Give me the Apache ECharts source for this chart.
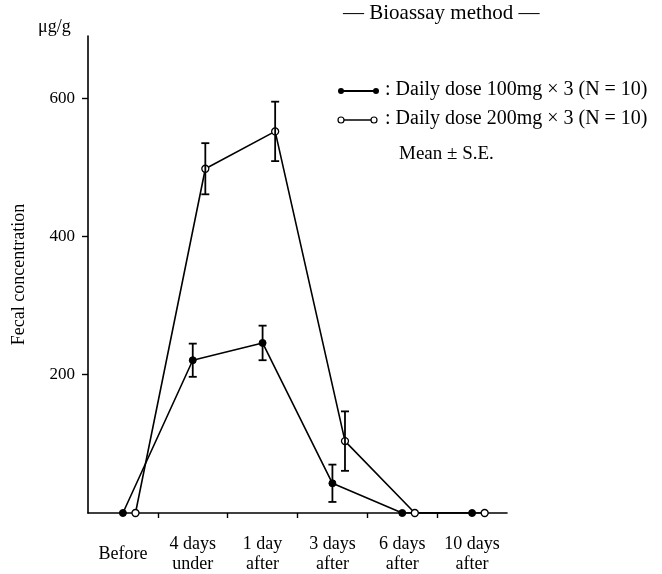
<!DOCTYPE html>
<html>
<head>
<meta charset="utf-8">
<script src="https://cdn.jsdelivr.net/npm/echarts@6/dist/echarts.min.js"></script>
<style>html,body{margin:0;padding:0;background:#fff;}#c{width:662px;height:574px;}</style>
</head>
<body>
<div id="c"></div>
<script>
// ---- data ----
var categories = ['Before', '4 days\nunder', '1 day\nafter', '3 days\nafter', '6 days\nafter', '10 days\nafter'];
var dose100 = [0, 221, 246, 43, 0, 0];
var dose100SE = [null, 24, 25, 27, null, null];
var dose200 = [0, 498, 552, 104, 0, 0];
var dose200SE = [null, 37, 43, 43, null, null];
var yTicks = [200, 400, 600];
var xTickPositions = [0.5, 1.5, 2.5, 3.5, 4.5];

// ---- style ----
var FONT = '"Liberation Serif", "DejaVu Serif", serif';
var offset100 = 0;
var offset200 = 0.18;

function pts(vals, off) {
  return vals.map(function (v, i) { return [i + off, v]; });
}
function errs(vals, se, off) {
  var out = [];
  vals.forEach(function (v, i) {
    if (se[i] != null) out.push([i + off, v - se[i], v + se[i]]);
  });
  return out;
}
function errRender(params, api) {
  var x = api.value(0);
  var lo = api.coord([x, api.value(1)]);
  var hi = api.coord([x, api.value(2)]);
  var w = 4;
  var st = { stroke: '#000', lineWidth: 1.8 };
  return {
    type: 'group',
    children: [
      { type: 'line', shape: { x1: lo[0], y1: lo[1], x2: hi[0], y2: hi[1] }, style: st },
      { type: 'line', shape: { x1: lo[0] - w, y1: lo[1], x2: lo[0] + w, y2: lo[1] }, style: st },
      { type: 'line', shape: { x1: hi[0] - w, y1: hi[1], x2: hi[0] + w, y2: hi[1] }, style: st }
    ]
  };
}

var chart = echarts.init(document.getElementById('c'), null, { renderer: 'canvas' });
var lx = 341, rx = 376;
chart.setOption({
  animation: false,
  backgroundColor: '#fff',
  title: {
    text: '— Bioassay method —',
    left: 343, top: 3, padding: 0,
    textStyle: { fontFamily: FONT, fontSize: 21, fontWeight: 'normal', color: '#000' }
  },
  grid: { left: 88, right: 155, top: 36, bottom: 60 },
  xAxis: [
    {
      type: 'category', data: categories, boundaryGap: true,
      axisLine: { onZero: false, lineStyle: { color: '#000', width: 1.6 } },
      axisTick: { show: false },
      axisLabel: { color: '#000', fontFamily: FONT, fontSize: 18, lineHeight: 20, margin: 41, verticalAlign: 'middle', interval: 0 },
      splitLine: { show: false }
    },
    {
      type: 'value', min: -0.5, max: 5.5, position: 'bottom',
      axisLine: { show: false, onZero: false },
      axisLabel: { show: false },
      axisTick: { show: true, customValues: xTickPositions, length: 5, lineStyle: { color: '#000', width: 1.4 } },
      splitLine: { show: false }
    }
  ],
  yAxis: {
    type: 'value', min: 0, max: 690,
    name: 'Fecal concentration', nameLocation: 'middle', nameRotate: 90, nameGap: 60,
    nameTextStyle: { fontFamily: FONT, fontSize: 18, color: '#000' },
    axisLine: { show: true, onZero: false, lineStyle: { color: '#000', width: 1.6 } },
    axisTick: { show: true, customValues: yTicks, length: 6, lineStyle: { color: '#000', width: 1.4 } },
    axisLabel: { customValues: yTicks, color: '#000', fontFamily: FONT, fontSize: 17, margin: 13 },
    splitLine: { show: false }
  },
  graphic: [
    { type: 'text', left: 38, top: 18, style: { text: 'μg/g', fontFamily: FONT, fontSize: 18, fill: '#000' } },
    // legend row 1
    { type: 'line', shape: { x1: lx, y1: 91, x2: rx, y2: 91 }, style: { stroke: '#000', lineWidth: 2 } },
    { type: 'circle', shape: { cx: lx, cy: 91, r: 3 }, style: { fill: '#000' } },
    { type: 'circle', shape: { cx: rx, cy: 91, r: 3 }, style: { fill: '#000' } },
    { type: 'text', left: 385, top: 80, style: { text: ': Daily dose 100mg × 3 (N = 10)', fontFamily: FONT, fontSize: 20, fill: '#000' } },
    // legend row 2
    { type: 'line', shape: { x1: lx, y1: 120, x2: rx - 2, y2: 120 }, style: { stroke: '#000', lineWidth: 1.6 } },
    { type: 'circle', shape: { cx: lx, cy: 120, r: 3 }, style: { fill: '#fff', stroke: '#000', lineWidth: 1.2 } },
    { type: 'circle', shape: { cx: rx - 2, cy: 120, r: 3 }, style: { fill: '#fff', stroke: '#000', lineWidth: 1.2 } },
    { type: 'text', left: 385, top: 109, style: { text: ': Daily dose 200mg × 3 (N = 10)', fontFamily: FONT, fontSize: 20, fill: '#000' } },
    { type: 'text', left: 399, top: 145, style: { text: 'Mean ± S.E.', fontFamily: FONT, fontSize: 19, fill: '#000' } }
  ],
  series: [
    {
      name: 'Daily dose 200mg × 3 (N = 10)', type: 'line', xAxisIndex: 1,
      data: pts(dose200, offset200),
      symbol: 'circle', symbolSize: 7,
      lineStyle: { color: '#000', width: 1.6 },
      itemStyle: { color: '#fff', borderColor: '#000', borderWidth: 1.3 },
      z: 3
    },
    {
      name: 'Daily dose 100mg × 3 (N = 10)', type: 'line', xAxisIndex: 1,
      data: pts(dose100, offset100),
      symbol: 'circle', symbolSize: 7,
      lineStyle: { color: '#000', width: 1.6 },
      itemStyle: { color: '#000', borderColor: '#000', borderWidth: 1 },
      z: 3
    },
    {
      type: 'custom', xAxisIndex: 1, renderItem: errRender,
      data: errs(dose200, dose200SE, offset200), z: 4, silent: true
    },
    {
      type: 'custom', xAxisIndex: 1, renderItem: errRender,
      data: errs(dose100, dose100SE, offset100), z: 4, silent: true
    }
  ]
});
</script>
</body>
</html>
